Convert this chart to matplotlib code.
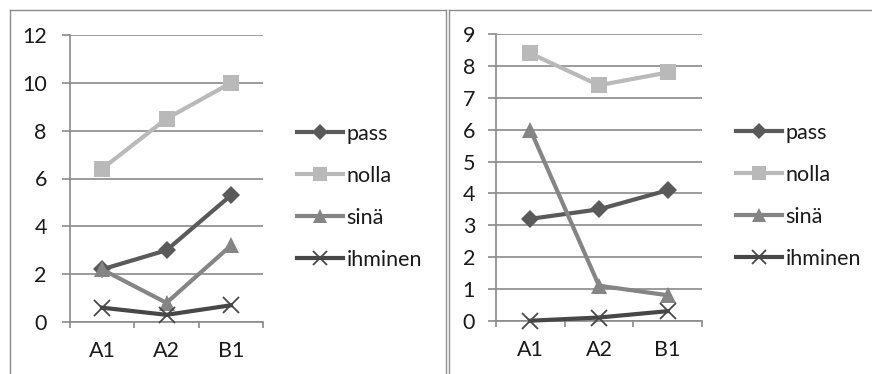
import matplotlib
matplotlib.use("Agg")
import matplotlib.pyplot as plt
from matplotlib.lines import Line2D

plt.rcParams['font.family'] = ['Lato', 'DejaVu Sans']

# Data
categories = ["A1", "A2", "B1"]
series_names = ["pass", "nolla", "sinä", "ihminen"]

left_pass = [2.2, 3.0, 5.3]
left_nolla = [6.4, 8.5, 10.0]
left_sina = [2.2, 0.8, 3.2]
left_ihminen = [0.6, 0.3, 0.7]

right_pass = [3.2, 3.5, 4.1]
right_nolla = [8.4, 7.4, 7.8]
right_sina = [6.0, 1.1, 0.8]
right_ihminen = [0.0, 0.1, 0.3]

left_yticks = [0, 2, 4, 6, 8, 10, 12]
right_yticks = [0, 1, 2, 3, 4, 5, 6, 7, 8, 9]

# styles: color, marker, markersize
STYLES = [
    ("#5a5a5a", "D", 9),
    ("#b9b9b9", "s", 11),
    ("#858585", "^", 11),
    ("#474747", "x", 11),
]
GRID = "#8a8a8a"
TEXT = "#1a1a1a"
FS = 15.5


def draw_chart(ax, data, yticks, legend_x, ypad):
    x = list(range(1, len(categories) + 1))
    for vals, name, (c, m, ms) in zip(data, series_names, STYLES):
        kw = dict(markeredgewidth=1.3) if m == "x" else dict(markeredgewidth=0)
        ax.plot(x, vals, color=c, lw=3.0, marker=m, markersize=ms,
                markerfacecolor=c, markeredgecolor=c, label=name,
                clip_on=False, zorder=3, **kw)
    ax.set_xlim(0.5, len(categories) + 0.5)
    ax.set_ylim(yticks[0], yticks[-1])
    ax.set_yticks(yticks)
    ax.set_xticks(x)
    ax.set_xticklabels(categories)
    ax.set_xticks([v + 0.5 for v in range(len(categories) + 1)], minor=True)
    ax.grid(axis="y", color=GRID, lw=1.2)
    ax.set_axisbelow(True)
    for s in ["top", "right"]:
        ax.spines[s].set_visible(False)
    for s in ["left", "bottom"]:
        ax.spines[s].set_color(GRID)
        ax.spines[s].set_linewidth(1.2)
    ax.tick_params(axis="y", length=6, width=1.2, color=GRID, labelsize=FS,
                   labelcolor=TEXT, pad=ypad)
    ax.tick_params(axis="x", which="major", length=0, labelsize=FS, labelcolor=TEXT, pad=14)
    ax.tick_params(axis="x", which="minor", length=4.5, width=1.2, color=GRID)
    ax.legend(loc="center left", bbox_to_anchor=(legend_x, 0.436), frameon=False,
              fontsize=FS, handlelength=2.15, handletextpad=0.15, labelspacing=1.02,
              borderpad=0, borderaxespad=0, labelcolor=TEXT, markerscale=0.9)


fig = plt.figure(figsize=(8.72, 3.74), dpi=100)
W, H = 872.0, 374.0

ax1 = fig.add_axes([69.7 / W, 1 - 322 / H, 193.6 / W, 287 / H])
draw_chart(ax1, [left_pass, left_nolla, left_sina, left_ihminen], left_yticks, 1.174, 10.5)

ax2 = fig.add_axes([496 / W, 1 - 320.7 / H, 206 / W, 286.4 / H])
draw_chart(ax2, [right_pass, right_nolla, right_sina, right_ihminen], right_yticks, 1.165, 9)

# chart frames
frame = dict(color="#8c8c8c", lw=1.0, transform=fig.transFigure)
fig.add_artist(Line2D([10 / W, 10 / W], [0, 1 - 10 / H], **frame))
fig.add_artist(Line2D([10 / W, 445.5 / W], [1 - 10 / H, 1 - 10 / H], **frame))
fig.add_artist(Line2D([445.5 / W, 445.5 / W], [0, 1 - 10 / H], **frame))
fig.add_artist(Line2D([448.5 / W, 448.5 / W], [0, 1 - 10 / H], **frame))
fig.add_artist(Line2D([448.5 / W, 1], [1 - 10 / H, 1 - 10 / H], **frame))

fig.savefig("out.png", dpi=100, facecolor="white")
